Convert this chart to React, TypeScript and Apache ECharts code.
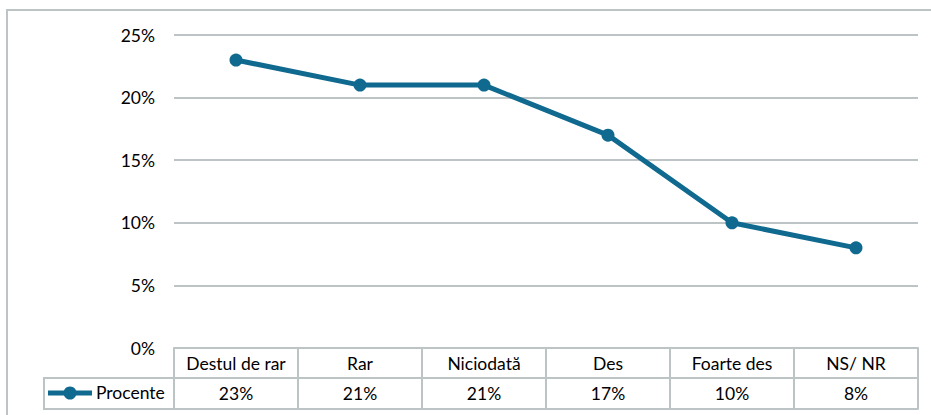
import React, { useEffect, useRef } from "react";
import * as echarts from "echarts";

const categories = ["Destul de rar", "Rar", "Niciodată", "Des", "Foarte des", "NS/ NR"];
const procente = [23, 21, 21, 17, 10, 8];
const seriesName = "Procente";
const yTicks = { min: 0, max: 25, interval: 5 };

const LINE = "#10698f";
const GRID = "#bcc4c6";
const FONT = "Lato, 'Open Sans', 'Noto Sans', sans-serif";
const FS = 17.5;

export default function App() {
  const ref = useRef<HTMLDivElement>(null);
  useEffect(() => {
    if (!ref.current) return;
    const chart = echarts.init(ref.current, undefined, { renderer: "svg" });
    const gl = 174, gr = 918, gt = 35, gb = 348;
    const row1 = 378, row2 = 409;
    chart.setOption({
      animation: false,
      backgroundColor: "#fff",
      textStyle: { fontFamily: FONT },
      grid: { left: gl, right: 931 - gr, top: gt, bottom: 415 - gb, containLabel: false },
      legend: {
        show: true,
        left: 44,
        top: row1 + 5,
        padding: 0,
        itemWidth: 47,
        itemHeight: 14,
        itemGap: 0,
        textStyle: { color: "#000", fontSize: FS, fontFamily: FONT },
        data: [{ name: seriesName, icon: "none" }],
      },
      xAxis: [
        {
          type: "category",
          data: categories,
          position: "bottom",
          boundaryGap: true,
          axisLine: { show: true, lineStyle: { color: GRID, width: 2 } },
          axisTick: { show: true, interval: 0, length: row2 - gb, lineStyle: { color: GRID, width: 2 } },
          axisLabel: { color: "#000", fontSize: FS, margin: 6, interval: 0, fontFamily: FONT },
        },
        {
          type: "category",
          data: categories,
          position: "bottom",
          offset: row1 - gb,
          boundaryGap: true,
          axisLine: { show: true, lineStyle: { color: GRID, width: 2 } },
          axisTick: { show: false },
          axisLabel: {
            color: "#000",
            fontSize: FS,
            margin: 6,
            interval: 0,
            fontFamily: FONT,
            formatter: (_v: string, i: number) => `${procente[i]}%`,
          },
        },
        {
          type: "category",
          data: categories,
          position: "bottom",
          offset: row2 - gb,
          boundaryGap: true,
          axisLine: { show: true, lineStyle: { color: GRID, width: 2 } },
          axisTick: { show: false },
          axisLabel: { show: false },
        },
      ],
      yAxis: {
        type: "value",
        min: yTicks.min,
        max: yTicks.max,
        interval: yTicks.interval,
        axisLine: { show: false },
        axisTick: { show: false },
        axisLabel: { color: "#000", fontSize: FS, margin: 19, formatter: "{value}%", fontFamily: FONT },
        splitLine: { show: true, lineStyle: { color: GRID, width: 2 } },
      },
      series: [
        {
          name: seriesName,
          type: "line",
          data: procente,
          symbol: "circle",
          symbolSize: 13,
          lineStyle: { color: LINE, width: 5 },
          itemStyle: { color: LINE },
        },
      ],
      graphic: [
        {
          type: "rect",
          shape: { x: 7, y: 10, width: 940, height: 430 },
          style: { fill: "none", stroke: GRID, lineWidth: 2 },
          silent: true,
        },
        {
          type: "rect",
          shape: { x: 44, y: row1, width: gl - 44, height: row2 - row1 },
          style: { fill: "none", stroke: GRID, lineWidth: 2 },
          silent: true,
        },
        {
          type: "line",
          shape: { x1: 48, y1: row1 + 15, x2: 92, y2: row1 + 15 },
          style: { stroke: LINE, lineWidth: 5 },
          silent: true,
        },
        {
          type: "circle",
          shape: { cx: 70, cy: row1 + 15, r: 6.5 },
          style: { fill: LINE },
          silent: true,
        },
      ],
    });
    return () => chart.dispose();
  }, []);
  return (
    <div
      ref={ref}
      style={{ position: "fixed", left: 0, top: 0, width: 931, height: 415, background: "#fff" }}
    />
  );
}
